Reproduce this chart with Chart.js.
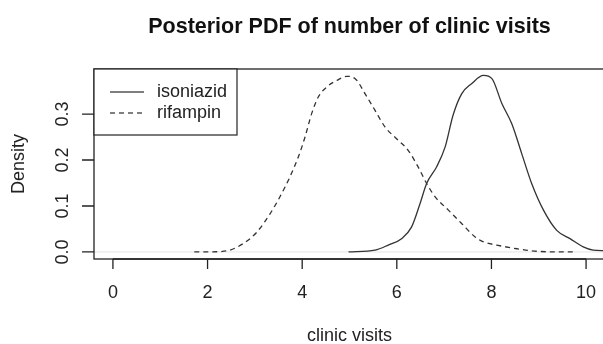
<!DOCTYPE html>
<html>
<head>
<meta charset="utf-8">
<script src="https://cdn.jsdelivr.net/npm/chart.js@4.4.1/dist/chart.umd.min.js"></script>
<style>
    html, body { margin: 0; padding: 0; background: #fff; overflow: hidden; }
    #wrap { width: 610px; height: 344px; }
</style>
</head>
<body>
<div id="wrap"><canvas id="pdf-chart" width="610" height="344"></canvas></div>
<script>
// posterior density
const isoniazidX = [4.98, 5.54, 5.82, 6.10, 6.31, 6.49, 6.63, 6.84, 7.02, 7.19, 7.37, 7.58, 7.83, 8.01, 8.22, 8.43, 8.64, 8.85, 9.10, 9.38, 9.66, 9.94, 10.15, 10.40];
const isoniazidY = [0.0, 0.004, 0.015, 0.029, 0.054, 0.105, 0.149, 0.185, 0.228, 0.298, 0.344, 0.366, 0.384, 0.377, 0.323, 0.279, 0.214, 0.149, 0.091, 0.047, 0.029, 0.011, 0.004, 0.003];

const rifampinX = [1.72, 2.19, 2.47, 2.75, 3.04, 3.32, 3.53, 3.74, 3.92, 4.06, 4.20, 4.34, 4.52, 4.73, 4.94, 5.12, 5.33, 5.54, 5.75, 6.03, 6.24, 6.45, 6.63, 6.81, 7.09, 7.37, 7.65, 7.83, 8.11, 8.54, 8.96, 9.59, 9.80];
const rifampinY = [0.0, 0.0005, 0.004, 0.018, 0.043, 0.083, 0.12, 0.163, 0.207, 0.25, 0.301, 0.337, 0.359, 0.373, 0.382, 0.377, 0.344, 0.308, 0.272, 0.243, 0.221, 0.185, 0.149, 0.12, 0.091, 0.062, 0.033, 0.022, 0.015, 0.007, 0.0015, 0.0, 0.0];

const xTicks = [0, 2, 4, 6, 8, 10];
const yTicks = [0, 0.1, 0.2, 0.3];
const yTickLabels = ['0.0', '0.1', '0.2', '0.3'];
const seriesNames = ['isoniazid', 'rifampin'];

const FONT = '"Liberation Sans", Arial, sans-serif';
const INK = '#222';

function toPoints(xs, ys) {
    return xs.map((x, i) => ({ x: x, y: ys[i] }));
}

// R-style frame: box, ticks, rotated y labels, legend, titles
const baseFrame = {
    id: 'baseFrame',
    beforeDatasetsDraw(chart) {
        const { ctx, chartArea: a, scales } = chart;
        const y0 = scales.y.getPixelForValue(0);
        ctx.save();
        ctx.strokeStyle = '#e4e4e4';
        ctx.lineWidth = 1;
        ctx.beginPath();
        ctx.moveTo(a.left, y0);
        ctx.lineTo(a.right, y0);
        ctx.stroke();
        ctx.restore();
    },
    afterDraw(chart) {
        const { ctx, chartArea: a, scales } = chart;
        const xs = scales.x, ys = scales.y;
        ctx.save();
        ctx.strokeStyle = INK;
        ctx.lineWidth = 1.3;
        ctx.strokeRect(a.left, a.top, a.right - a.left, a.bottom - a.top);

        // x axis
        ctx.beginPath();
        ctx.moveTo(xs.getPixelForValue(xTicks[0]), a.bottom);
        ctx.lineTo(xs.getPixelForValue(xTicks[xTicks.length - 1]), a.bottom);
        xTicks.forEach(t => {
            const px = xs.getPixelForValue(t);
            ctx.moveTo(px, a.bottom);
            ctx.lineTo(px, a.bottom + 10);
        });
        // y axis
        yTicks.forEach(t => {
            const py = ys.getPixelForValue(t);
            ctx.moveTo(a.left, py);
            ctx.lineTo(a.left - 12, py);
        });
        ctx.stroke();

        ctx.fillStyle = INK;
        ctx.font = '18px ' + FONT;
        ctx.textAlign = 'center';
        ctx.textBaseline = 'middle';
        xTicks.forEach(t => {
            ctx.fillText(String(t), xs.getPixelForValue(t), 293);
        });
        yTicks.forEach((t, i) => {
            ctx.save();
            ctx.translate(63, ys.getPixelForValue(t));
            ctx.rotate(-Math.PI / 2);
            ctx.fillText(yTickLabels[i], 0, 0);
            ctx.restore();
        });

        // axis titles
        ctx.fillText('clinic visits', (a.left + a.right) / 2, 336);
        ctx.save();
        ctx.translate(19, (a.top + a.bottom) / 2);
        ctx.rotate(-Math.PI / 2);
        ctx.fillText('Density', 0, 0);
        ctx.restore();

        // main title
        ctx.font = 'bold 21.5px ' + FONT;
        ctx.fillStyle = '#111';
        ctx.fillText('Posterior PDF of number of clinic visits', (a.left + a.right) / 2, 27);

        // legend box
        ctx.fillStyle = '#fff';
        ctx.lineWidth = 1.2;
        ctx.fillRect(a.left, a.top, 143, 66);
        ctx.strokeRect(a.left, a.top, 143, 66);
        ctx.strokeStyle = '#555';
        ctx.lineWidth = 1.3;
        ctx.beginPath();
        ctx.moveTo(a.left + 16, 92);
        ctx.lineTo(a.left + 50, 92);
        ctx.stroke();
        ctx.setLineDash([5, 4]);
        ctx.beginPath();
        ctx.moveTo(a.left + 16, 113);
        ctx.lineTo(a.left + 50, 113);
        ctx.stroke();
        ctx.setLineDash([]);
        ctx.fillStyle = INK;
        ctx.font = '18px ' + FONT;
        ctx.textAlign = 'left';
        ctx.fillText(seriesNames[0], a.left + 63, 92);
        ctx.fillText(seriesNames[1], a.left + 63, 113);
        ctx.restore();
    }
};

new Chart(document.getElementById('pdf-chart').getContext('2d'), {
    type: 'line',
    data: {
        datasets: [{
            label: seriesNames[0],
            data: toPoints(isoniazidX, isoniazidY),
            borderColor: '#333',
            borderWidth: 1.3,
            pointRadius: 0,
            cubicInterpolationMode: 'monotone',
            fill: false
        }, {
            label: seriesNames[1],
            data: toPoints(rifampinX, rifampinY),
            borderColor: '#333',
            borderWidth: 1.3,
            borderDash: [5, 4],
            pointRadius: 0,
            cubicInterpolationMode: 'monotone',
            fill: false
        }]
    },
    options: {
        responsive: false,
        animation: false,
        layout: {
            padding: { left: 94, top: 69, right: 5, bottom: 85 }
        },
        scales: {
            x: { type: 'linear', min: -0.4, max: 10.4, display: false },
            y: { type: 'linear', min: -0.0153, max: 0.398, display: false }
        },
        plugins: {
            legend: { display: false },
            tooltip: { enabled: false }
        }
    },
    plugins: [baseFrame]
});
</script>
</body>
</html>
